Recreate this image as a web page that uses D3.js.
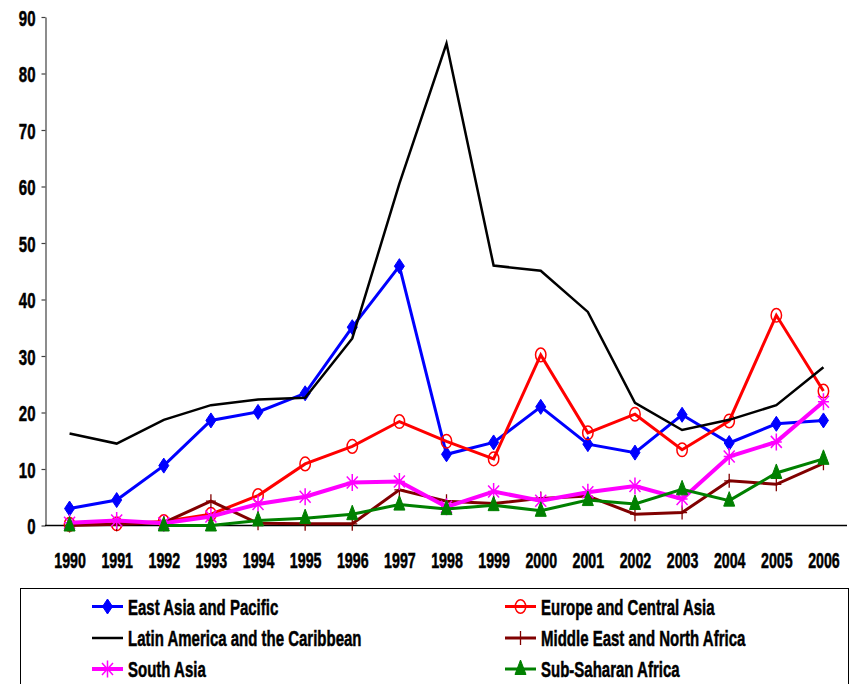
<!DOCTYPE html>
<html>
<head>
<meta charset="utf-8">
<script src="https://cdn.jsdelivr.net/npm/d3@7"></script>
<style>
  html, body { margin: 0; padding: 0; background: #fff; }
  svg { display: block; }
  text { font-family: "Liberation Sans", Arial, sans-serif; font-weight: bold; fill: #000; stroke: #000; stroke-width: 0.35px; }
</style>
</head>
<body>
<svg id="chart" width="852" height="684"></svg>
<script>
const years = [1990,1991,1992,1993,1994,1995,1996,1997,1998,1999,2000,2001,2002,2003,2004,2005,2006];
const yTicks = [0,10,20,30,40,50,60,70,80,90];

const eastAsia   = [3.0, 4.5, 10.6, 18.6, 20.1, 23.4, 35.1, 45.9, 12.6, 14.7, 21.0, 14.4, 12.9, 19.6, 14.6, 18.0, 18.6];
const europe     = [0.2, 0.3, 0.7, 2.0, 5.3, 10.9, 14.0, 18.4, 14.9, 11.8, 30.2, 16.4, 19.7, 13.4, 18.5, 37.2, 23.8];
const latin      = [16.3, 14.5, 18.7, 21.3, 22.3, 22.6, 33.1, 60.5, 85.3, 46.0, 45.1, 37.8, 21.7, 16.9, 18.7, 21.3, 28.0];
const middleEast = [0.0, 0.2, 0.5, 4.3, 0.4, 0.3, 0.3, 6.3, 4.3, 3.9, 4.8, 5.2, 2.0, 2.3, 7.9, 7.3, 11.0];
const southAsia  = [0.5, 0.9, 0.4, 1.6, 3.8, 5.1, 7.6, 7.8, 3.3, 6.0, 4.4, 5.9, 7.0, 4.7, 12.2, 14.8, 21.9];
const subSaharan = [0.0, null, 0.0, 0.0, 0.9, 1.3, 2.0, 3.7, 2.9, 3.6, 2.6, 4.5, 3.8, 6.4, 4.4, 9.3, 11.8];

const seriesNames = ["East Asia and Pacific", "Europe and Central Asia", "Latin America and the Caribbean",
                     "Middle East and North Africa", "South Asia", "Sub-Saharan Africa"];

const series = [
  {name: seriesNames[0], values: eastAsia,   color: "#0000FF", width: 3,   marker: "diamond"},
  {name: seriesNames[1], values: europe,     color: "#FF0000", width: 3,   marker: "circle"},
  {name: seriesNames[2], values: latin,      color: "#000000", width: 2.5, marker: "none"},
  {name: seriesNames[3], values: middleEast, color: "#800000", width: 3,   marker: "plus"},
  {name: seriesNames[4], values: southAsia,  color: "#FF00FF", width: 4,   marker: "star"},
  {name: seriesNames[5], values: subSaharan, color: "#008000", width: 3,   marker: "triangle"}
];

const svg = d3.select("#chart");
const SY = 1.5; // vertical stretch of text

const x = d3.scalePoint().domain(years).range([46, 847]).padding(0.5);
const y = d3.scaleLinear().domain([0, 90]).range([525.5, 17]);

// Y axis
const yAxis = svg.append("g")
  .attr("transform", "translate(45.5,0)")
  .call(d3.axisLeft(y).tickValues(yTicks).tickSize(4).tickSizeOuter(0));
yAxis.select(".domain").attr("stroke", "#404040").attr("stroke-width", 1.2);
yAxis.selectAll(".tick line").attr("stroke", "#404040").attr("stroke-width", 1.2);
yAxis.selectAll(".tick text")
  .attr("x", null).attr("y", null).attr("dy", null)
  .attr("transform", `translate(-10,8) scale(1,${SY})`)
  .attr("text-anchor", "end")
  .style("font-size", "15px")
  .style("font-family", "'Liberation Sans', Arial, sans-serif")
  .style("font-weight", "bold")
  .attr("fill", "#000");

// X axis
const xAxis = svg.append("g")
  .attr("transform", `translate(0,${y(0)})`)
  .call(d3.axisBottom(x).tickSize(0).tickSizeOuter(0).tickFormat(d3.format("d")));
xAxis.select(".domain").attr("stroke", "#000").attr("stroke-width", 1.5).attr("d", "M45,0H847");
xAxis.selectAll(".tick text")
  .attr("x", null).attr("y", null).attr("dy", null)
  .attr("transform", `translate(0,42.5) scale(1,${SY})`)
  .attr("text-anchor", "middle")
  .style("font-size", "14.2px")
  .style("font-family", "'Liberation Sans', Arial, sans-serif")
  .style("font-weight", "bold")
  .attr("fill", "#000");

// marker drawing
function drawMarker(g, type, color) {
  if (type === "diamond") {
    g.append("path").attr("d", "M0,-7.5L5,0L0,7.5L-5,0Z").attr("fill", color).attr("stroke", color).attr("stroke-width", 1);
  } else if (type === "circle") {
    g.append("ellipse").attr("rx", 5.2).attr("ry", 6.8).attr("fill", "none").attr("stroke", color).attr("stroke-width", 1.5);
  } else if (type === "triangle") {
    g.append("path").attr("d", "M0,-9L5.5,5.5L-5.5,5.5Z").attr("fill", color).attr("stroke", color).attr("stroke-width", 1);
  } else if (type === "plus") {
    g.append("path").attr("d", "M0,-7V7M-5,0H5").attr("stroke", color).attr("stroke-width", 1.3).attr("fill", "none");
  } else if (type === "star") {
    g.append("path").attr("d", "M0,-8.5V8.5M-5.5,-6L5.5,6M-5.5,6L5.5,-6M-5.5,0H5.5")
      .attr("stroke", color).attr("stroke-width", 1.5).attr("fill", "none");
  }
}

const line = d3.line()
  .defined(d => d.v !== null)
  .x(d => x(d.year))
  .y(d => y(d.v));

const plot = svg.append("g");
series.forEach(s => {
  const pts = years.map((yr, i) => ({year: yr, v: s.values[i]}));
  const g = plot.append("g");
  g.append("path").datum(pts)
    .attr("d", line)
    .attr("fill", "none")
    .attr("stroke", s.color)
    .attr("stroke-width", s.width)
    .attr("stroke-linejoin", "miter");
  if (s.marker !== "none") {
    pts.filter(p => p.v !== null).forEach(p => {
      const mg = g.append("g").attr("transform", `translate(${x(p.year)},${y(p.v)})`);
      drawMarker(mg, s.marker, s.color);
    });
  }
});

// Legend
const legend = svg.append("g");
legend.append("rect")
  .attr("x", 20.5).attr("y", 588.5).attr("width", 828).attr("height", 120)
  .attr("fill", "#fff").attr("stroke", "#000").attr("stroke-width", 1);

const legCols = [92, 505];
const legRows = [606.5, 638, 669];
series.forEach((s, i) => {
  const col = i % 2, row = Math.floor(i / 2);
  const lx = legCols[col], ly = legRows[row];
  const g = legend.append("g");
  g.append("line").attr("x1", lx).attr("x2", lx + 31).attr("y1", ly).attr("y2", ly)
    .attr("stroke", s.color).attr("stroke-width", s.width);
  if (s.marker !== "none") {
    const mg = g.append("g").attr("transform", `translate(${lx + 15.5},${ly})`);
    drawMarker(mg, s.marker, s.color);
  }
  g.append("text")
    .attr("transform", `translate(${lx + 36},${ly + 8}) scale(1,${SY})`)
    .style("font-size", "15px")
    .text(s.name);
});
</script>
</body>
</html>
